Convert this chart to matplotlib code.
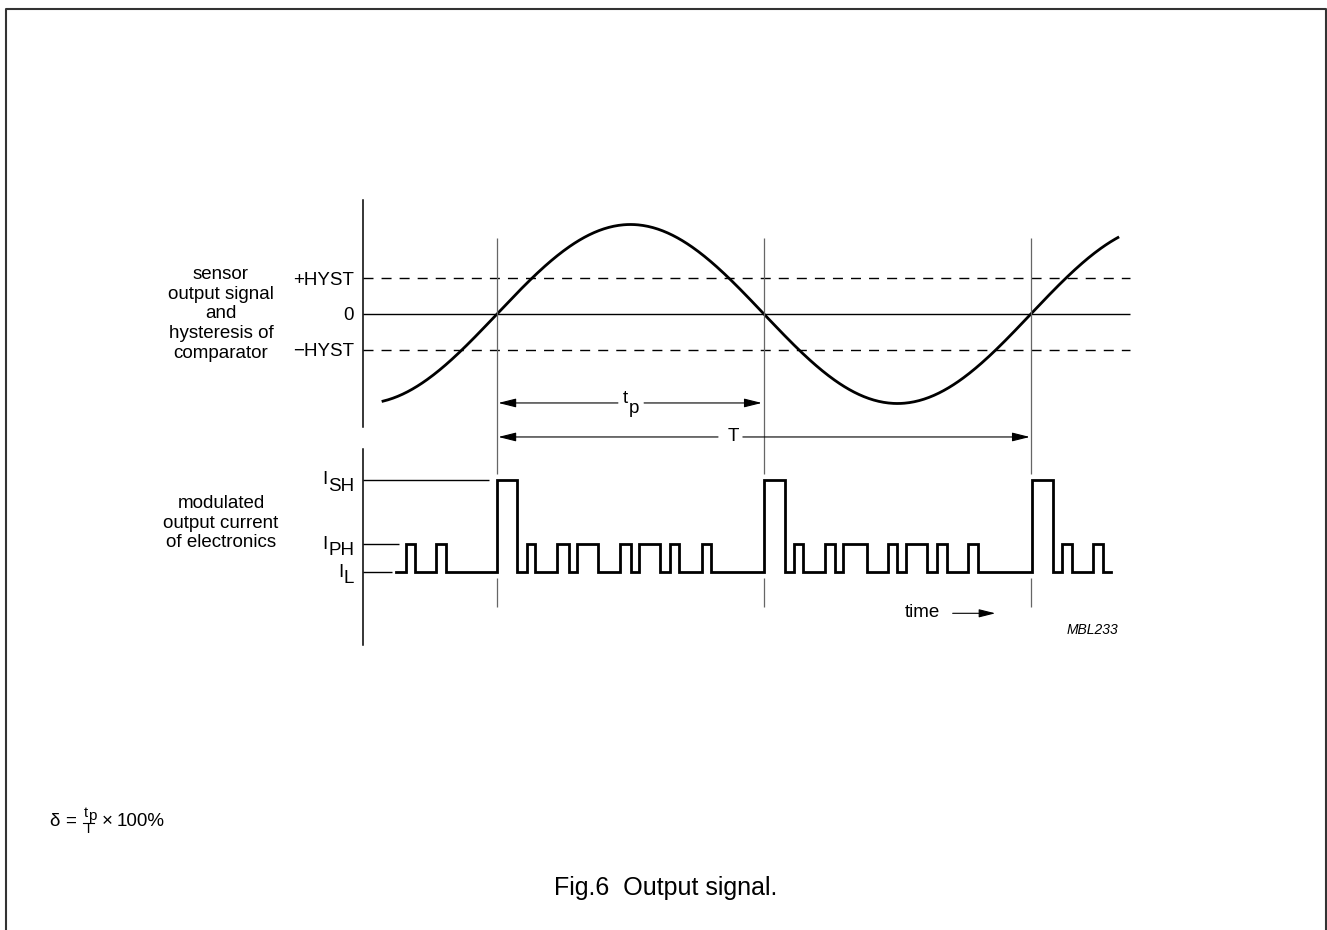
import numpy as np
import matplotlib.pyplot as plt
from matplotlib.lines import Line2D
from matplotlib.transforms import offset_copy

plt.rcParams['font.family'] = ['Liberation Sans', 'DejaVu Sans']
plt.rcParams['lines.scale_dashes'] = False

W, H = 1327, 930
FS = 13.5

# time in arbitrary units, sensor half period = 10
crossings = [0, 10, 20]
half_period = 10.0
sine_t = (-4.27, 23.26)
amplitude = 1.0
hyst = 0.4
ref_line_end = 23.7
level_ticks = [hyst, 0.0, -hyst]
level_labels = ["+HYST", "0", "\u2212HYST"]

# output current levels
I_L, I_PH, I_SH = 0.0, 1.0, 3.3
current_levels = [I_SH, I_PH, I_L]
current_subs = ["SH", "PH", "L"]
current_line_end = [-0.30, -3.67, -3.94]
train_t = (-3.78, 23.02)
sh_pulses = [(0.0, 0.74), (10.01, 10.79), (20.03, 20.81)]
ph_pulses = [(-3.42, -3.07), (-2.28, -1.91),
             (1.11, 1.42), (2.26, 2.71), (2.99, 3.77), (4.61, 5.01),
             (5.33, 6.10), (6.48, 6.83), (7.67, 8.00),
             (11.13, 11.47), (12.28, 12.66), (12.97, 13.85), (14.66, 14.97),
             (15.31, 16.09), (16.47, 16.85), (17.65, 18.03),
             (21.15, 21.55), (22.31, 22.69)]


def px_rect(x0, y0, x1, y1):
    return [x0 / W, 1 - y1 / H, (x1 - x0) / W, (y1 - y0) / H]


def P(x, y):
    return x / W, 1 - y / H


def sub_label(ax, x, y, main, sub, trans, drop, ha="right", size=FS):
    if ha == "right":
        s = ax.text(x, y, sub, transform=trans, ha="right", va="baseline", fontsize=size)
        ax.annotate(main, xy=(0, 0), xycoords=s, xytext=(-0.3, drop),
                    textcoords="offset points", ha="right", va="bottom", fontsize=size)
    else:
        m = ax.text(x, y, main, transform=trans, ha="left", va="baseline", fontsize=size)
        ax.annotate(sub, xy=(1, 0), xycoords=m, xytext=(0.3, -drop),
                    textcoords="offset points", ha="left", va="bottom", fontsize=size)


def arrow(ax, x0, x1, y, hl=1.08, hw=0.27, lw=0.8):
    ax.annotate("", xy=(x1, y), xytext=(x0, y), annotation_clip=False,
                arrowprops=dict(arrowstyle="-|>,head_length=%g,head_width=%g" % (hl, hw),
                                mutation_scale=10, lw=lw, color="black",
                                shrinkA=0, shrinkB=0))


fig = plt.figure(figsize=(W / 100, H / 100), dpi=100)

top = fig.add_axes(px_rect(363, 200, 1151, 427))
bot = fig.add_axes(px_rect(363, 449, 1151, 645))
for ax in (top, bot):
    ax.set_xlim(-5.02, 24.5)
    for side in ("top", "right", "bottom"):
        ax.spines[side].set_visible(False)
    ax.spines["left"].set_linewidth(1.1)
    ax.set_xticks([])
    ax.patch.set_alpha(0)
top.set_ylim(-1.2626, 1.2737)
bot.set_ylim(-2.607, 4.393)

# sensor signal
t = np.linspace(sine_t[0], sine_t[1], 600)
top.plot(t, amplitude * np.sin(np.pi * t / half_period), color="black", lw=2.0)
top.hlines(0, -5.02, ref_line_end, colors="black", lw=1.0)
top.hlines([hyst, -hyst], -5.02, ref_line_end, colors="black", lw=1.0,
           linestyles=[(0, (7.2, 5.8))])
top.set_yticks(level_ticks)
top.set_yticklabels(level_labels, fontsize=FS)
top.tick_params(axis="y", length=0, pad=6.5)

# vertical markers at zero crossings
top.vlines(crossings, -1.788, 0.849, colors="#666666", lw=0.9, clip_on=False)
bot.vlines(crossings, -1.25, -0.214, colors="#666666", lw=0.9, clip_on=False)

# tp and T arrows
tp_y, T_y = -0.994, -1.374
arrow(top, 4.53, 0.05, tp_y)
arrow(top, 5.51, 9.92, tp_y)
arrow(top, 8.28, 0.05, T_y)
arrow(top, 9.21, 19.96, T_y)
sub_label(top, 4.72, tp_y, "t", "p", top.transData, 7.0, ha="left")
top.text(8.84, T_y, "T", ha="center", va="center", fontsize=FS)

# output current pulse train
pulses = sorted([(a, b, I_SH) for a, b in sh_pulses] + [(a, b, I_PH) for a, b in ph_pulses])
xs, ys = [train_t[0]], [I_L]
for a, b, lvl in pulses:
    xs += [a, a, b, b]
    ys += [I_L, lvl, lvl, I_L]
xs.append(train_t[1])
ys.append(I_L)
bot.plot(xs, ys, color="black", lw=2.0, solid_joinstyle="miter")
for lvl, end in zip(current_levels, current_line_end):
    bot.hlines(lvl, -5.02, end, colors="black", lw=1.0)
bot.set_yticks([])
lab_trans = offset_copy(bot.get_yaxis_transform(), fig=fig, x=-9, y=-11, units="dots")
for lvl, sub in zip(current_levels, current_subs):
    sub_label(bot, 0, lvl, "I", sub, lab_trans, 4.5)

bot.text(15.28, -1.607, "time", ha="left", va="baseline", fontsize=FS)
arrow(bot, 17.07, 18.67, -1.475, hl=1.0, hw=0.25)
bot.text(23.28, -2.214, "MBL233", ha="right", va="baseline", fontsize=10, style="italic")

# side descriptions
fig.text(*P(221, 314), "sensor\noutput signal\nand\nhysteresis of\ncomparator",
         ha="center", va="center", fontsize=FS, linespacing=1.21)
fig.text(*P(221, 523), "modulated\noutput current\nof electronics",
         ha="center", va="center", fontsize=FS, linespacing=1.21)

# duty cycle formula
fig.text(*P(49, 826), "\u03b4", ha="left", va="baseline", fontsize=FS)
fig.text(*P(65, 826), "=", ha="left", va="baseline", fontsize=FS)
fig.text(*P(83.5, 817), "t", ha="left", va="baseline", fontsize=10.5)
fig.text(*P(88.5, 820), "p", ha="left", va="baseline", fontsize=11)
fig.add_artist(Line2D([83 / W, 93.5 / W], [1 - 822.5 / H] * 2, color="black", lw=0.8,
                      transform=fig.transFigure))
fig.text(*P(88.2, 833), "T", ha="center", va="baseline", fontsize=10.5)
fig.text(*P(102, 826), "\u00d7", ha="left", va="baseline", fontsize=FS)
fig.text(*P(117, 826), "100%", ha="left", va="baseline", fontsize=FS)

# caption
fig.text(*P(666, 895), "Fig.6  Output signal.", ha="center", va="baseline", fontsize=18)

# frame
fig.add_artist(Line2D([5.5 / W, 5.5 / W, 1325.5 / W, 1325.5 / W],
                      [0, 1 - 9 / H, 1 - 9 / H, 0], color="#333333", lw=1.5,
                      transform=fig.transFigure))

fig.savefig("out.png", dpi=100)
